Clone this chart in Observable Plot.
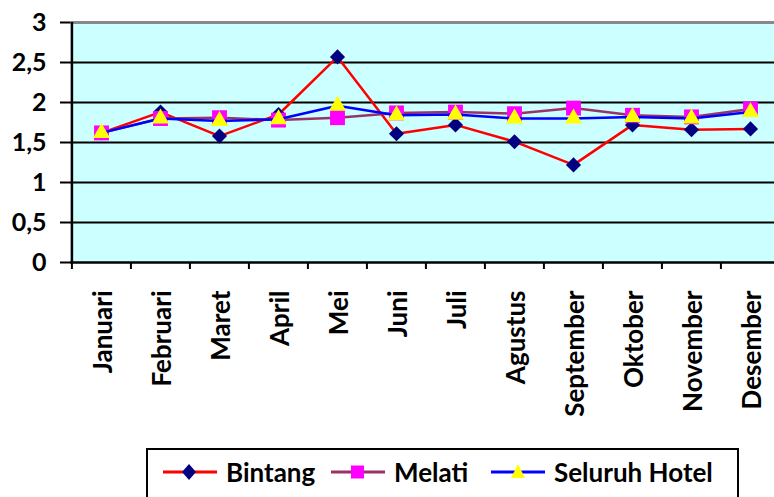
<!DOCTYPE html>
<html>
<head>
<meta charset="utf-8">
<script src="https://cdn.jsdelivr.net/npm/d3@7"></script>
<script src="https://cdn.jsdelivr.net/npm/@observablehq/plot@0.6"></script>
<style>
  html, body { margin: 0; padding: 0; background: #fff; overflow: hidden; width: 774px; height: 497px; }
  #chart svg { display: block; }
  .legend { position: absolute; left: 146px; top: 448px; width: 593px; height: 60px; border: 2px solid #000; box-sizing: border-box; font-family: Lato, "Open Sans", sans-serif; font-weight: 700; font-size: 26px; color: #000; }
  .item { position: absolute; top: 4px; display: flex; align-items: center; height: 36px; }
  .item svg { display: block; }
  .item span { margin-left: 9px; white-space: nowrap; }
</style>
</head>
<body>
<div id="chart"></div>
<div class="legend" id="legend"></div>
<script>
const months = ["Januari","Februari","Maret","April","Mei","Juni","Juli","Agustus","September","Oktober","November","Desember"];
const bintang = [1.62,1.88,1.58,1.85,2.57,1.61,1.72,1.51,1.22,1.72,1.66,1.67];
const melati  = [1.62,1.80,1.81,1.78,1.81,1.87,1.88,1.86,1.93,1.84,1.82,1.92];
const seluruh = [1.62,1.80,1.77,1.79,1.96,1.84,1.85,1.80,1.80,1.82,1.80,1.88];
const yTicks = [0,0.5,1,1.5,2,2.5,3];
const seriesNames = ["Bintang","Melati","Seluruh Hotel"];

const rows = (vals, name) => months.map((m, i) => ({month: m, value: vals[i], series: name}));
const dB = rows(bintang, seriesNames[0]);
const dM = rows(melati, seriesNames[1]);
const dS = rows(seluruh, seriesNames[2]);

const step = (780 - 70) / months.length;
const font = "Lato, 'Open Sans', sans-serif";

const chart = Plot.plot({
  width: 774,
  height: 440,
  marginLeft: 70,
  marginRight: -6,
  marginTop: 22,
  marginBottom: 178,
  style: {fontFamily: font, fontWeight: "700", fontSize: "25px", color: "#000", background: "transparent"},
  x: {type: "point", domain: months, range: [70, 780], padding: 0.5, label: null},
  y: {domain: [0, 3], range: [262, 22], label: null},
  marks: [
    Plot.frame({fill: "#CCFFFF", stroke: null}),
    Plot.gridY(yTicks.slice(1, 6), {stroke: "#000", strokeOpacity: 1, strokeWidth: 2}),
    Plot.ruleY([3], {stroke: "#888", strokeWidth: 3}),
    Plot.ruleY([0], {stroke: "#000", strokeWidth: 2.5}),
    Plot.ruleX([months[0]], {dx: -step / 2, y1: 0, y2: 3, stroke: "#000", strokeWidth: 2.5}),
    Plot.axisY(yTicks, {tickSize: 10, tickPadding: 14, strokeWidth: 2, tickFormat: d => String(d).replace(".", ","), fontSize: 25, fontWeight: 700, label: null}),
    Plot.axisX(months, {tickSize: 7, text: null, dx: -step / 2, strokeWidth: 2, label: null}),
    Plot.axisX(months, {tickSize: 0, tickPadding: 28, tickRotate: -90, dx: 2, fontSize: 26, fontWeight: 700, label: null}),
    Plot.line(dB, {x: "month", y: "value", stroke: "#FF0000", strokeWidth: 2.5}),
    Plot.dot(dB, {x: "month", y: "value", symbol: "diamond2", r: 6.8, fill: "#000080", stroke: null}),
    Plot.line(dM, {x: "month", y: "value", stroke: "#993366", strokeWidth: 2.5}),
    Plot.dot(dM, {x: "month", y: "value", symbol: "square", r: 8.4, fill: "#FF00FF", stroke: null}),
    Plot.line(dS, {x: "month", y: "value", stroke: "#0000FF", strokeWidth: 2.5}),
    Plot.dot(dS, {x: "month", y: "value", symbol: "triangle", r: 6.4, fill: "#FFFF00", stroke: null})
  ]
});
document.getElementById("chart").appendChild(chart);

// legend
const legend = document.getElementById("legend");
const sw = [
  {name: seriesNames[0], line: "#FF0000", marker: '<path d="M26,8 L33,16 L26,24 L19,16 Z" fill="#000080"/>', left: 15},
  {name: seriesNames[1], line: "#993366", marker: '<rect x="20" y="9.5" width="13" height="13" fill="#FF00FF"/>', left: 183},
  {name: seriesNames[2], line: "#0000FF", marker: '<path d="M27,8 L34,22 L20,22 Z" fill="#FFFF00"/>', left: 343}
];
sw.forEach(s => {
  const d = document.createElement("div");
  d.className = "item";
  d.style.left = s.left + "px";
  d.innerHTML = `<svg width="54" height="32"><line x1="0" x2="54" y1="16" y2="16" stroke="${s.line}" stroke-width="3"/>${s.marker}</svg><span>${s.name}</span>`;
  legend.appendChild(d);
});
</script>
</body>
</html>
